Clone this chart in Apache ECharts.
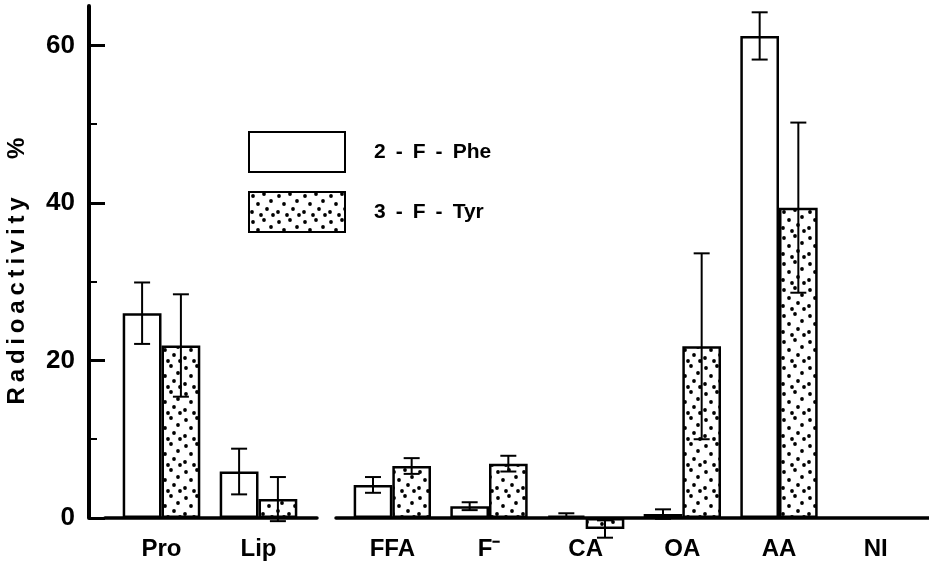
<!DOCTYPE html>
<html>
<head>
<meta charset="utf-8">
<script src="https://cdn.jsdelivr.net/npm/echarts@6/dist/echarts.min.js"></script>
<style>
html,body{margin:0;padding:0;background:#fff;}
#chart{width:929px;height:569px;}
</style>
</head>
<body>
<div id="chart"></div>
<script>
// ---- data ----
const categoriesA = ['Pro', 'Lip'];
const categoriesB = ['FFA', 'F\u207B', 'CA', 'OA', 'AA', 'NI'];
const seriesNames = ['2-F-Phe', '3-F-Tyr'];
const pheA = [26.0, 5.9];
const pheErrA = [3.9, 2.9];
const tyrA = [21.9, 2.4];
const tyrErrA = [6.5, 2.8];
const pheB = [4.2, 1.5, 0.3, 0.5, 61.2, null];
const pheErrB = [1.0, 0.5, 0.3, 0.6, 3.0, null];
const tyrB = [6.6, 6.9, -1.4, 21.8, 39.4, null];
const tyrErrB = [1.0, 1.0, 1.1, 11.8, 10.8, null];
const majorTicks = [0, 20, 40, 60];
const minorTicks = [10, 30, 50];
const yMin = 0, yMax = 65;
const yName = 'Radioactivity %';

// ---- dotted pattern (fill style) ----
const tile = document.createElement('canvas');
tile.width = 26; tile.height = 26;
const tctx = tile.getContext('2d');
tctx.fillStyle = '#fff';
tctx.fillRect(0, 0, 26, 26);
tctx.fillStyle = '#000';
[[4,4],[15,2],[22,9],[9,12],[18,17],[3,20],[12,23],[24,23]].forEach(function (p) {
  tctx.beginPath(); tctx.arc(p[0], p[1], 1.9, 0, Math.PI * 2); tctx.fill();
});
const dotFill = { image: tile, repeat: 'repeat' };

const font = '"Liberation Sans", Arial, sans-serif';
const gridTop = 6, gridBottom = 51;

function errData(vals, errs, side) {
  return vals.map(function (v, i) { return [i, v, errs[i], side]; })
             .filter(function (d) { return d[1] != null; });
}
function errorSeries(vals, errs, side, gi) {
  return {
    type: 'custom',
    xAxisIndex: gi, yAxisIndex: gi === 0 ? 0 : 3,
    z: 5, clip: false, silent: true,
    encode: { x: 0, y: 1 },
    data: errData(vals, errs, side),
    renderItem: function (params, api) {
      const v = api.value(1), e = api.value(2), s = api.value(3);
      const catW = api.size([1, 0])[0];
      const top = api.coord([api.value(0), v + e]);
      const bot = api.coord([api.value(0), v - e]);
      const x = top[0] + s * catW * 0.2;
      const cap = 8;
      const st = { stroke: '#000', lineWidth: 2 };
      return {
        type: 'group',
        children: [
          { type: 'line', shape: { x1: x, y1: top[1], x2: x, y2: bot[1] }, style: st },
          { type: 'line', shape: { x1: x - cap, y1: top[1], x2: x + cap, y2: top[1] }, style: st },
          { type: 'line', shape: { x1: x - cap, y1: bot[1], x2: x + cap, y2: bot[1] }, style: st }
        ]
      };
    }
  };
}
function barSeries(name, vals, gi, fill) {
  return {
    name: name, type: 'bar',
    xAxisIndex: gi, yAxisIndex: gi === 0 ? 0 : 3,
    data: vals, barGap: '0%', barCategoryGap: '20%', clip: false,
    itemStyle: { color: fill, borderColor: '#000', borderWidth: 2.5 },
    emphasis: { disabled: true }
  };
}

const chart = echarts.init(document.getElementById('chart'), null, { renderer: 'canvas' });
const catAxis = function (gi, data) {
  return {
    type: 'category', gridIndex: gi, data: data,
    axisLine: { show: false },
    axisTick: { show: false },
    axisLabel: { color: '#000', fontFamily: font, fontWeight: 'bold', fontSize: 24, margin: 19 }
  };
};
const lineAxis = function (gi) {
  return {
    type: 'value', gridIndex: gi, min: 0, max: 1,
    axisLine: { show: true, onZero: false, lineStyle: { color: '#000', width: 3.5 } },
    axisTick: { show: false }, axisLabel: { show: false }, splitLine: { show: false }
  };
};
const hiddenY = function (gi) {
  return { type: 'value', gridIndex: gi, min: yMin, max: yMax, show: false, splitLine: { show: false } };
};
const tickAxis = function (values, len, w) {
  return {
    type: 'value', gridIndex: 0, position: 'left', min: yMin, max: yMax, offset: 24,
    axisLine: { show: false },
    axisTick: { show: true, inside: true, length: len, customValues: values, lineStyle: { color: '#000', width: w } },
    axisLabel: { show: false },
    splitLine: { show: false }
  };
};
const nameSpaced = yName.replace(' ', '\u2002\u2002').split('').join('\u2009');

chart.setOption({
  animation: false,
  backgroundColor: '#fff',
  grid: [
    { left: 113, width: 194, top: gridTop, bottom: gridBottom },
    { left: 344, width: 580, top: gridTop, bottom: gridBottom },
    { left: 105, width: 212, top: gridTop, bottom: gridBottom },
    { left: 336, right: 0, top: gridTop, bottom: gridBottom }
  ],
  legend: {
    orient: 'vertical', left: 243, top: 126,
    icon: 'rect',
    itemWidth: 96, itemHeight: 40, itemGap: 18,
    selectedMode: false,
    data: seriesNames,
    formatter: function (n) { return n.replace(/-/g, ' \u2009-\u2009 '); },
    textStyle: { color: '#000', fontFamily: font, fontWeight: 'bold', fontSize: 21, padding: [0, 0, 0, 24] }
  },
  xAxis: [catAxis(0, categoriesA), catAxis(1, categoriesB), lineAxis(2), lineAxis(3)],
  yAxis: [
    {
      type: 'value', gridIndex: 0, position: 'left', min: yMin, max: yMax, offset: 24,
      name: nameSpaced, nameLocation: 'middle', nameGap: 60, nameRotate: 90,
      nameTextStyle: { color: '#000', fontFamily: font, fontWeight: 'bold', fontSize: 24, padding: [0, 18, 0, 0] },
      axisLine: { show: true, lineStyle: { color: '#000', width: 4 } },
      axisTick: { show: false },
      axisLabel: { color: '#000', fontFamily: font, fontWeight: 'bold', fontSize: 26, margin: 14, customValues: majorTicks },
      splitLine: { show: false }
    },
    tickAxis(minorTicks, 8, 2),
    tickAxis(majorTicks, 16, 3),
    hiddenY(1), hiddenY(2), hiddenY(3)
  ],
  series: [
    barSeries(seriesNames[0], pheA, 0, '#fff'),
    barSeries(seriesNames[1], tyrA, 0, dotFill),
    barSeries(seriesNames[0], pheB, 1, '#fff'),
    barSeries(seriesNames[1], tyrB, 1, dotFill),
    errorSeries(pheA, pheErrA, -1, 0),
    errorSeries(tyrA, tyrErrA, 1, 0),
    errorSeries(pheB, pheErrB, -1, 1),
    errorSeries(tyrB, tyrErrB, 1, 1)
  ]
});
</script>
</body>
</html>
